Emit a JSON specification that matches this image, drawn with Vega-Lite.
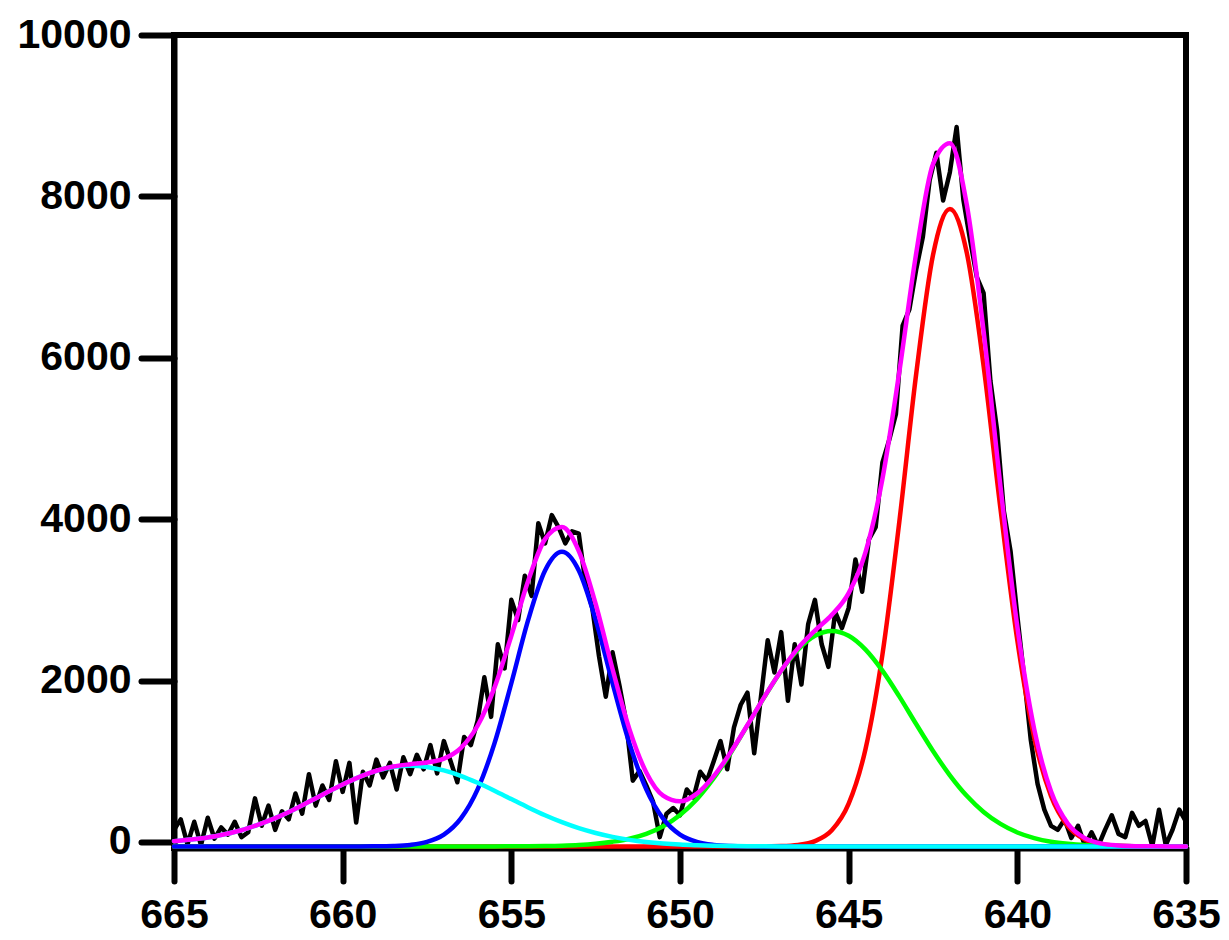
{
  "$schema": "https://vega.github.io/schema/vega-lite/v6.json",
  "width": 1012,
  "height": 813,
  "autosize": {"type": "none"},
  "padding": {"left": 174, "top": 35, "right": 43, "bottom": 92},
  "background": "white",
  "datasets": {
    "spec": [
      {"x":665.0,"y":150},{"x":664.8,"y":280},{"x":664.6,"y":-30},{"x":664.4,"y":250},{"x":664.2,"y":-40},
      {"x":664.0,"y":300},{"x":663.8,"y":40},{"x":663.6,"y":180},{"x":663.4,"y":90},{"x":663.2,"y":250},
      {"x":663.0,"y":60},{"x":662.8,"y":120},{"x":662.6,"y":540},{"x":662.4,"y":200},{"x":662.2,"y":450},
      {"x":662.0,"y":150},{"x":661.8,"y":380},{"x":661.6,"y":280},{"x":661.4,"y":600},{"x":661.2,"y":350},
      {"x":661.0,"y":840},{"x":660.8,"y":450},{"x":660.6,"y":700},{"x":660.4,"y":520},{"x":660.2,"y":1000},
      {"x":660.0,"y":620},{"x":659.8,"y":980},{"x":659.6,"y":240},{"x":659.4,"y":870},{"x":659.2,"y":700},
      {"x":659.0,"y":1020},{"x":658.8,"y":800},{"x":658.6,"y":980},{"x":658.4,"y":650},{"x":658.2,"y":1050},
      {"x":658.0,"y":840},{"x":657.8,"y":1080},{"x":657.6,"y":900},{"x":657.4,"y":1200},{"x":657.2,"y":850},
      {"x":657.0,"y":1250},{"x":656.8,"y":1000},{"x":656.6,"y":740},{"x":656.4,"y":1300},{"x":656.2,"y":1200},
      {"x":656.0,"y":1500},{"x":655.8,"y":2040},{"x":655.6,"y":1550},{"x":655.4,"y":2450},{"x":655.2,"y":2150},
      {"x":655.0,"y":3000},{"x":654.8,"y":2750},{"x":654.6,"y":3300},{"x":654.4,"y":3050},{"x":654.2,"y":3950},
      {"x":654.0,"y":3700},{"x":653.8,"y":4050},{"x":653.6,"y":3900},{"x":653.4,"y":3700},{"x":653.2,"y":3850},
      {"x":653.0,"y":3820},{"x":652.8,"y":3200},{"x":652.6,"y":2900},{"x":652.4,"y":2300},{"x":652.2,"y":1800},
      {"x":652.0,"y":2350},{"x":651.8,"y":1950},{"x":651.6,"y":1500},{"x":651.4,"y":760},{"x":651.2,"y":880},
      {"x":651.0,"y":700},{"x":650.8,"y":500},{"x":650.6,"y":60},{"x":650.4,"y":350},{"x":650.2,"y":420},
      {"x":650.0,"y":330},{"x":649.8,"y":650},{"x":649.6,"y":550},{"x":649.4,"y":870},{"x":649.2,"y":760},
      {"x":649.0,"y":1000},{"x":648.8,"y":1250},{"x":648.6,"y":900},{"x":648.4,"y":1420},{"x":648.2,"y":1700},
      {"x":648.0,"y":1850},{"x":647.8,"y":1100},{"x":647.6,"y":1800},{"x":647.4,"y":2500},{"x":647.2,"y":2100},
      {"x":647.0,"y":2600},{"x":646.8,"y":1750},{"x":646.6,"y":2450},{"x":646.4,"y":1950},{"x":646.2,"y":2700},
      {"x":646.0,"y":3000},{"x":645.8,"y":2450},{"x":645.6,"y":2170},{"x":645.4,"y":2850},{"x":645.2,"y":2650},
      {"x":645.0,"y":2900},{"x":644.8,"y":3500},{"x":644.6,"y":3100},{"x":644.4,"y":3750},{"x":644.2,"y":3900},
      {"x":644.0,"y":4700},{"x":643.8,"y":4980},{"x":643.6,"y":5300},{"x":643.4,"y":6400},{"x":643.2,"y":6600},
      {"x":643.0,"y":7090},{"x":642.8,"y":7500},{"x":642.6,"y":8200},{"x":642.4,"y":8540},{"x":642.2,"y":7950},
      {"x":642.0,"y":8300},{"x":641.8,"y":8860},{"x":641.6,"y":7960},{"x":641.4,"y":7460},{"x":641.2,"y":7000},
      {"x":641.0,"y":6800},{"x":640.8,"y":5720},{"x":640.6,"y":5100},{"x":640.4,"y":4100},{"x":640.2,"y":3600},
      {"x":640.0,"y":2800},{"x":639.8,"y":2050},{"x":639.6,"y":1260},{"x":639.4,"y":720},{"x":639.2,"y":400},
      {"x":639.0,"y":200},{"x":638.8,"y":150},{"x":638.6,"y":280},{"x":638.4,"y":50},{"x":638.2,"y":200},
      {"x":638.0,"y":-40},{"x":637.8,"y":120},{"x":637.6,"y":-50},{"x":637.4,"y":150},{"x":637.2,"y":330},
      {"x":637.0,"y":100},{"x":636.8,"y":60},{"x":636.6,"y":360},{"x":636.4,"y":200},{"x":636.2,"y":260},
      {"x":636.0,"y":-50},{"x":635.8,"y":400},{"x":635.6,"y":-40},{"x":635.4,"y":150},{"x":635.2,"y":400},
      {"x":635.0,"y":250}
    ],
    "fit": [
      {"x":665.0,"red":-55,"green":-55,"blue":-55,"cyan":10,"fit":10},
      {"x":664.5,"red":-55,"green":-55,"blue":-55,"cyan":30,"fit":30},
      {"x":664.0,"red":-55,"green":-55,"blue":-55,"cyan":55,"fit":55},
      {"x":663.5,"red":-55,"green":-55,"blue":-55,"cyan":95,"fit":95},
      {"x":663.0,"red":-55,"green":-55,"blue":-55,"cyan":145,"fit":145},
      {"x":662.5,"red":-55,"green":-55,"blue":-55,"cyan":215,"fit":215},
      {"x":662.0,"red":-55,"green":-55,"blue":-55,"cyan":295,"fit":295},
      {"x":661.5,"red":-55,"green":-55,"blue":-55,"cyan":390,"fit":390},
      {"x":661.0,"red":-55,"green":-55,"blue":-55,"cyan":497,"fit":497},
      {"x":660.5,"red":-55,"green":-55,"blue":-55,"cyan":607,"fit":607},
      {"x":660.0,"red":-55,"green":-55,"blue":-55,"cyan":713,"fit":713},
      {"x":659.5,"red":-55,"green":-55,"blue":-55,"cyan":807,"fit":807},
      {"x":659.0,"red":-55,"green":-55,"blue":-54,"cyan":881,"fit":882},
      {"x":658.5,"red":-55,"green":-55,"blue":-50,"cyan":929,"fit":934},
      {"x":658.0,"red":-55,"green":-55,"blue":-37,"cyan":945,"fit":963},
      {"x":657.5,"red":-55,"green":-55,"blue":0,"cyan":930,"fit":985},
      {"x":657.0,"red":-55,"green":-55,"blue":91,"cyan":887,"fit":1033},
      {"x":656.5,"red":-55,"green":-55,"blue":289,"cyan":820,"fit":1164},
      {"x":656.0,"red":-55,"green":-55,"blue":652,"cyan":733,"fit":1440},
      {"x":655.5,"red":-55,"green":-55,"blue":1222,"cyan":635,"fit":1912},
      {"x":655.0,"red":-55,"green":-54,"blue":1967,"cyan":531,"fit":2554},
      {"x":654.5,"red":-55,"green":-53,"blue":2752,"cyan":428,"fit":3237},
      {"x":654.0,"red":-55,"green":-51,"blue":3363,"cyan":331,"fit":3753},
      {"x":653.5,"red":-55,"green":-47,"blue":3595,"cyan":245,"fit":3903},
      {"x":653.0,"red":-55,"green":-39,"blue":3363,"cyan":171,"fit":3605},
      {"x":652.5,"red":-55,"green":-23,"blue":2752,"cyan":111,"fit":2950},
      {"x":652.0,"red":-55,"green":3,"blue":1967,"cyan":63,"fit":2143},
      {"x":651.5,"red":-55,"green":40,"blue":1222,"cyan":26,"fit":1398},
      {"x":651.0,"red":-55,"green":100,"blue":652,"cyan":-1,"fit":861},
      {"x":650.5,"red":-55,"green":195,"blue":289,"cyan":-20,"fit":574},
      {"x":650.0,"red":-55,"green":335,"blue":91,"cyan":-33,"fit":503},
      {"x":649.5,"red":-55,"green":530,"blue":0,"cyan":-41,"fit":599},
      {"x":649.0,"red":-55,"green":790,"blue":-37,"cyan":-47,"fit":816},
      {"x":648.5,"red":-55,"green":1100,"blue":-50,"cyan":-50,"fit":1110},
      {"x":648.0,"red":-55,"green":1445,"blue":-54,"cyan":-52,"fit":1449},
      {"x":647.5,"red":-54,"green":1795,"blue":-55,"cyan":-54,"fit":1797},
      {"x":647.0,"red":-51,"green":2120,"blue":-55,"cyan":-55,"fit":2124},
      {"x":646.5,"red":-37,"green":2384,"blue":-55,"cyan":-55,"fit":2402},
      {"x":646.0,"red":10,"green":2555,"blue":-55,"cyan":-55,"fit":2620},
      {"x":645.5,"red":144,"green":2615,"blue":-55,"cyan":-55,"fit":2814},
      {"x":645.0,"red":474,"green":2555,"blue":-55,"cyan":-55,"fit":3084},
      {"x":644.5,"red":1153,"green":2384,"blue":-55,"cyan":-55,"fit":3592},
      {"x":644.0,"red":2320,"green":2123,"blue":-55,"cyan":-55,"fit":4498},
      {"x":643.5,"red":3963,"green":1804,"blue":-55,"cyan":-55,"fit":5822},
      {"x":643.0,"red":5794,"green":1461,"blue":-55,"cyan":-55,"fit":7290},
      {"x":642.5,"red":7273,"green":1127,"blue":-55,"cyan":-55,"fit":8400},
      {"x":642.0,"red":7845,"green":826,"blue":-55,"cyan":-55,"fit":8660},
      {"x":641.5,"red":7305,"green":572,"blue":-55,"cyan":-55,"fit":7900},
      {"x":641.0,"red":5900,"green":372,"blue":-55,"cyan":-55,"fit":6327},
      {"x":640.5,"red":4128,"green":223,"blue":-55,"cyan":-55,"fit":4406},
      {"x":640.0,"red":2496,"green":117,"blue":-55,"cyan":-55,"fit":2668},
      {"x":639.5,"red":1295,"green":48,"blue":-55,"cyan":-55,"fit":1398},
      {"x":639.0,"red":566,"green":3,"blue":-55,"cyan":-55,"fit":624},
      {"x":638.5,"red":193,"green":-23,"blue":-55,"cyan":-55,"fit":225},
      {"x":638.0,"red":31,"green":-39,"blue":-55,"cyan":-55,"fit":47},
      {"x":637.5,"red":-29,"green":-47,"blue":-55,"cyan":-55,"fit":-21},
      {"x":637.0,"red":-48,"green":-51,"blue":-55,"cyan":-55,"fit":-44},
      {"x":636.5,"red":-53,"green":-53,"blue":-55,"cyan":-55,"fit":-52},
      {"x":636.0,"red":-55,"green":-54,"blue":-55,"cyan":-55,"fit":-54},
      {"x":635.5,"red":-55,"green":-55,"blue":-55,"cyan":-55,"fit":-55},
      {"x":635.0,"red":-55,"green":-55,"blue":-55,"cyan":-55,"fit":-55}
    ]
  },
  "encoding": {
    "x": {
      "field": "x",
      "type": "quantitative",
      "title": null,
      "scale": {"domain": [635, 665], "reverse": true, "nice": false, "zero": false},
      "axis": {"values": [665, 660, 655, 650, 645, 640, 635], "format": "d"}
    }
  },
  "layer": [
    {
      "data": {"name": "spec"},
      "mark": {"type": "line", "color": "black", "strokeWidth": 4.5, "strokeJoin": "round", "strokeCap": "round"},
      "encoding": {
        "y": {"field": "y", "type": "quantitative", "title": null,
              "scale": {"domain": [-75, 10000], "nice": false, "zero": false},
              "axis": {"values": [0, 2000, 4000, 6000, 8000, 10000], "format": "d"}}
      }
    },
    {
      "data": {"name": "fit"},
      "mark": {"type": "line", "color": "#FF0000", "strokeWidth": 4.5, "interpolate": "monotone", "strokeCap": "round"},
      "encoding": {"y": {"field": "red", "type": "quantitative", "title": null}}
    },
    {
      "data": {"name": "fit"},
      "mark": {"type": "line", "color": "#00FF00", "strokeWidth": 4.5, "interpolate": "monotone", "strokeCap": "round"},
      "encoding": {"y": {"field": "green", "type": "quantitative", "title": null}}
    },
    {
      "data": {"name": "fit"},
      "mark": {"type": "line", "color": "#0000FF", "strokeWidth": 4.5, "interpolate": "monotone", "strokeCap": "round"},
      "encoding": {"y": {"field": "blue", "type": "quantitative", "title": null}}
    },
    {
      "data": {"name": "fit"},
      "mark": {"type": "line", "color": "#00FFFF", "strokeWidth": 4.5, "interpolate": "monotone", "strokeCap": "round"},
      "encoding": {"y": {"field": "cyan", "type": "quantitative", "title": null}}
    },
    {
      "data": {"name": "fit"},
      "mark": {"type": "line", "color": "#FF00FF", "strokeWidth": 4.5, "interpolate": "monotone", "strokeCap": "round"},
      "encoding": {"y": {"field": "fit", "type": "quantitative", "title": null}}
    }
  ],
  "config": {
    "view": {"stroke": "black", "strokeWidth": 6},
    "axis": {
      "grid": false,
      "domainColor": "black",
      "domainWidth": 6,
      "tickColor": "black",
      "tickWidth": 6,
      "tickSize": 33,
      "tickCap": "round",
      "labelFont": "Liberation Sans",
      "labelFontWeight": "bold",
      "labelFontSize": 41,
      "labelColor": "black",
      "labelFlush": false,
      "labelOverlap": false,
      "labelBound": false
    },
    "axisX": {"labelPadding": 14},
    "axisY": {"labelPadding": 10}
  }
}
